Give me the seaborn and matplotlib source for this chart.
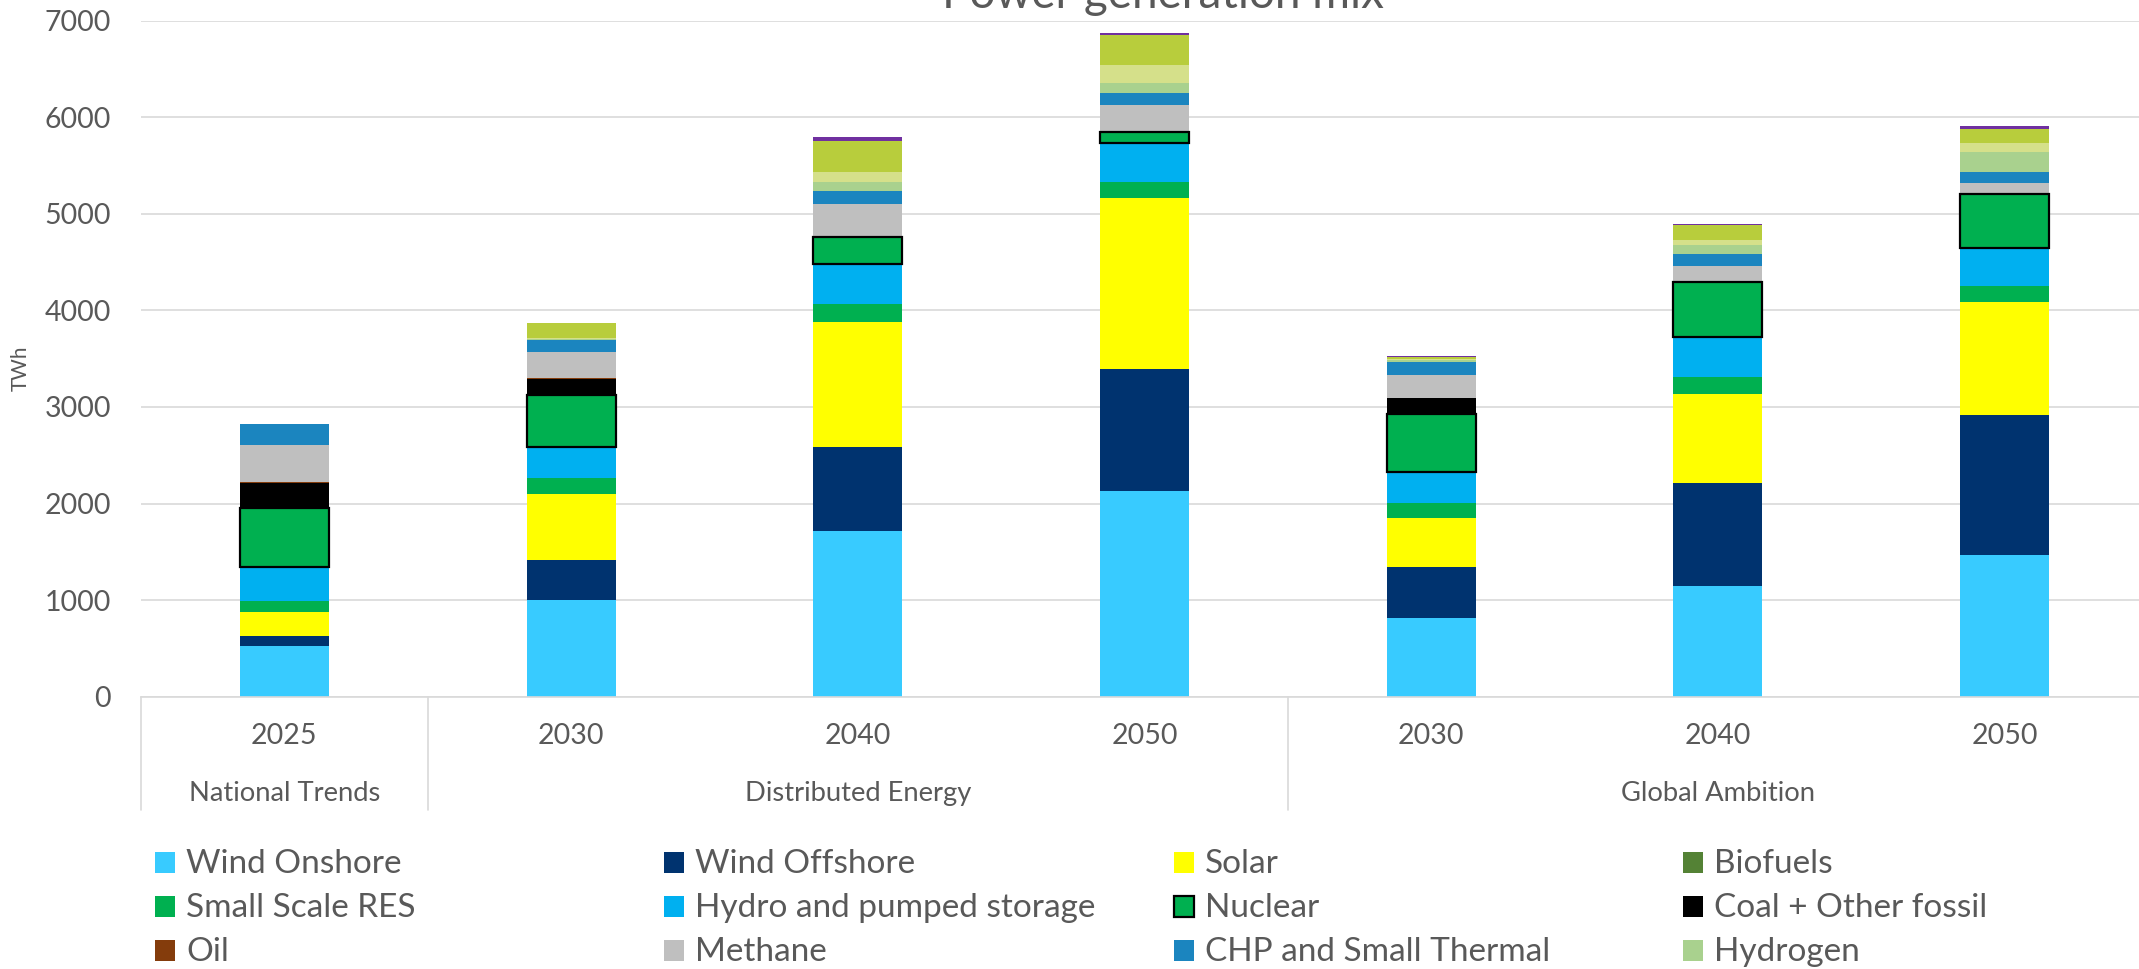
import numpy as np
import matplotlib
matplotlib.use("Agg")
import matplotlib.pyplot as plt
from matplotlib.patches import Rectangle
import seaborn as sns

# categories: scenario / year
bar_keys = ["NT 2025", "DE 2030", "DE 2040", "DE 2050", "GA 2030", "GA 2040", "GA 2050"]
years = ["2025", "2030", "2040", "2050", "2030", "2040", "2050"]
groups = ["National Trends", "Distributed Energy", "Global Ambition"]
group_spans = [(0, 0), (1, 3), (4, 6)]

# generation per technology, TWh
wind_onshore = [525, 1001, 1721, 2126, 815, 1143, 1470]
wind_offshore = [103, 411, 865, 1266, 528, 1073, 1450]
solar = [252, 690, 1297, 1770, 511, 918, 1164]
biofuels = [0, 0, 0, 0, 0, 0, 0]
small_res = [114, 159, 180, 166, 152, 173, 169]
hydro = [346, 328, 417, 407, 318, 415, 397]
nuclear = [617, 535, 279, 115, 603, 569, 555]
coal = [259, 168, 0, 0, 164, 0, 0]
oil = [10, 5, 0, 0, 5, 0, 0]
methane = [380, 269, 344, 278, 235, 169, 111]
chp = [218, 131, 130, 120, 132, 124, 117]
hydrogen = [0, 8, 96, 106, 20, 93, 211]
other_res = [0, 14, 103, 185, 17, 52, 93]
other_nonres = [0, 150, 325, 309, 22, 152, 145]
dsr = [0, 3, 35, 28, 6, 14, 24]

series = [
    ("Wind Onshore", wind_onshore, "#38CBFF"),
    ("Wind Offshore", wind_offshore, "#00336F"),
    ("Solar", solar, "#FFFF00"),
    ("Biofuels", biofuels, "#548235"),
    ("Small Scale RES", small_res, "#00B050"),
    ("Hydro and pumped storage", hydro, "#00B0F0"),
    ("Nuclear", nuclear, "#00B050"),
    ("Coal + Other fossil", coal, "#000000"),
    ("Oil", oil, "#843C0C"),
    ("Methane", methane, "#BFBFBF"),
    ("CHP and Small Thermal", chp, "#1B85BF"),
    ("Hydrogen", hydrogen, "#A9D18E"),
    ("Other RES", other_res, "#D5E08A"),
    ("Other non-RES", other_nonres, "#B8CD3C"),
    ("Demand side response", dsr, "#7030A0"),
]
legend_count = 12  # only these rows fit in the visible area

W, H = 2139, 969
text_col = "#595959"
grid_col = "#D9D9D9"

sns.set_theme(style="white")
plt.rcParams["font.family"] = ["Lato", "DejaVu Sans"]

fig = plt.figure(figsize=(W / 100, H / 100), dpi=100)
ax = fig.add_axes([141 / W, (H - 696.7) / H, 2007 / W, 676 / H])

bottom = np.zeros(len(bar_keys))
for name, vals, color in series:
    vals = np.array(vals, dtype=float)
    is_nuc = name == "Nuclear"
    sns.barplot(x=bar_keys, y=vals, order=bar_keys, bottom=bottom, width=0.31,
                color=color, saturation=1, ax=ax,
                edgecolor="black" if is_nuc else color,
                linewidth=1.6 if is_nuc else 0, zorder=3 if is_nuc else 2)
    bottom += vals

ax.set_xlim(-0.5, 6.5)
ax.set_ylim(0, 7000)
ax.set_yticks(range(0, 7001, 1000))
ax.set_yticklabels([str(v) for v in range(0, 7001, 1000)])
ax.tick_params(axis="y", length=0, pad=21.5, labelsize=20.5, labelcolor=text_col)
ax.set_xticks([])
ax.set_xlabel("")
ax.yaxis.grid(True, color=grid_col, linewidth=1.2)
ax.set_axisbelow(True)
for s in ["top", "right", "left"]:
    ax.spines[s].set_visible(False)
ax.spines["bottom"].set_color(grid_col)
ax.spines["bottom"].set_linewidth(1.2)

ax.set_ylabel("TWh", fontsize=15, color=text_col)
ax.yaxis.set_label_coords(-0.055, 0.486)

# two-level category axis
xt = ax.get_xaxis_transform()
for i, yr in enumerate(years):
    ax.text(i, -0.070, yr, transform=xt, ha="center", va="baseline",
            fontsize=20.5, color=text_col)
for g, (a, b) in zip(groups, group_spans):
    ax.text((a + b) / 2, -0.1538, g, transform=xt, ha="center", va="baseline",
            fontsize=19.7, color=text_col)
for xs in [-0.5, 0.5, 3.5, 6.5]:
    ax.plot([xs, xs], [0, -0.167], transform=xt, color=grid_col, lw=1.2, clip_on=False)

fig.text(1163 / W, (H - 8) / H, "Power generation mix", ha="center", va="baseline",
         fontsize=33, color=text_col)

# legend, laid out in 4 columns like the original
for i, (name, vals, color) in enumerate(series[:legend_count]):
    row, col = divmod(i, 4)
    x0 = 155 + 509.3 * col
    y_base = 873 + 44 * row
    edge = "black" if name == "Nuclear" else color
    fig.add_artist(Rectangle((x0 / W, (H - y_base) / H), 20 / W, 21 / H,
                             transform=fig.transFigure, facecolor=color,
                             edgecolor=edge, linewidth=1.6 if name == "Nuclear" else 0))
    fig.text((x0 + 31) / W, (H - y_base) / H, name, ha="left", va="baseline",
             fontsize=24, color=text_col)

fig.savefig("out.png", dpi=100)
